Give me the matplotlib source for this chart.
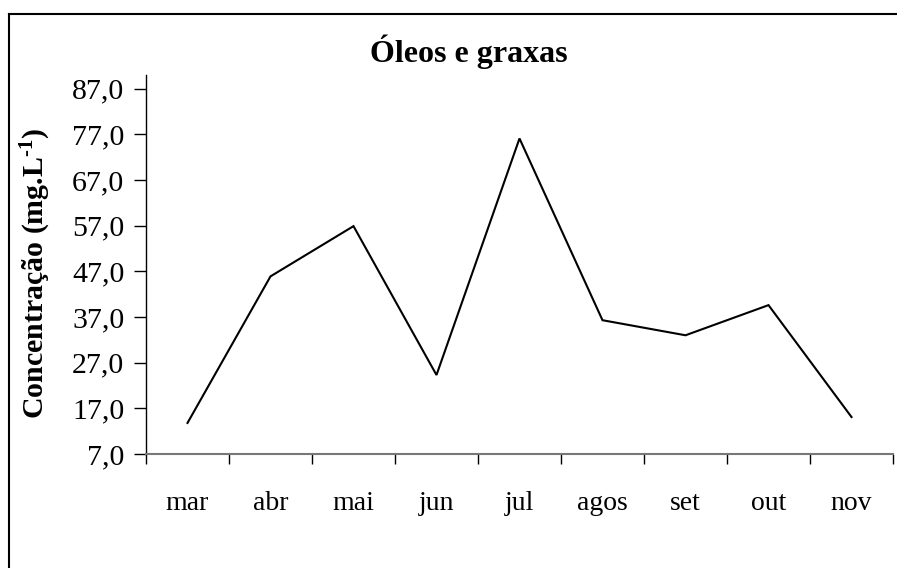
import matplotlib
matplotlib.use("Agg")
import matplotlib.pyplot as plt
from matplotlib.lines import Line2D

months = ["mar", "abr", "mai", "jun", "jul", "agos", "set", "out", "nov"]
values = [13.8, 45.9, 56.9, 24.3, 76.1, 36.3, 33.0, 39.6, 15.1]
yticks = [7, 17, 27, 37, 47, 57, 67, 77, 87]
ytick_labels = ["7,0", "17,0", "27,0", "37,0", "47,0", "57,0", "67,0", "77,0", "87,0"]

plt.rcParams['font.family'] = ['Liberation Serif', 'DejaVu Serif']
plt.rcParams['mathtext.fontset'] = 'custom'
plt.rcParams['mathtext.rm'] = 'Liberation Serif:bold'
plt.rcParams['mathtext.bf'] = 'Liberation Serif:bold'
plt.rcParams['mathtext.default'] = 'bf'

W, H = 897, 568
fig = plt.figure(figsize=(W / 100, H / 100), dpi=100)
fig.patch.set_facecolor("white")

left, right, bottom, top = 146 / W, 893 / W, 1 - 454 / H, 1 - 75 / H
ax = fig.add_axes([left, bottom, right - left, top - bottom])

x = list(range(len(months)))
ax.plot(x, values, color="black", linewidth=1.5, solid_joinstyle="miter")

ax.set_xlim(-0.5, len(months) - 0.5)
ax.set_ylim(7, 90)
ax.set_yticks(yticks)
ax.set_yticklabels(ytick_labels, fontsize=21.5)

ax.set_xticks(x)
ax.set_xticklabels(months, fontsize=20)
ax.set_xticks([i - 0.5 for i in range(len(months) + 1)], minor=True)
ax.tick_params(axis="x", which="major", length=0, pad=27)
ax.tick_params(axis="x", which="minor", length=7, width=1, color="black", direction="out")
ax.tick_params(axis="y", length=8.5, width=1, color="black", direction="out", pad=7)

for s in ["top", "right"]:
    ax.spines[s].set_visible(False)
ax.spines["left"].set_color("black")
ax.spines["left"].set_linewidth(1.0)
ax.spines["bottom"].set_color("#777777")
ax.spines["bottom"].set_linewidth(1.5)

fig.text(469 / W, 1 - 52 / H, "Óleos e graxas", ha="center", va="center",
         fontsize=23, fontweight="bold")
fig.text(36 / W, 1 - 273 / H, r"Concentração (mg.L$^{\text{-}1}$)", rotation=90,
         ha="center", va="center", fontsize=21.5, fontweight="bold")

fig.add_artist(Line2D([8.5 / W, 8.5 / W], [0, 1 - 14 / H], transform=fig.transFigure,
                      color="black", linewidth=1.5))
fig.add_artist(Line2D([8.5 / W, 1], [1 - 14 / H, 1 - 14 / H], transform=fig.transFigure,
                      color="black", linewidth=1.5))

fig.savefig("out.png", dpi=100, facecolor="white")
